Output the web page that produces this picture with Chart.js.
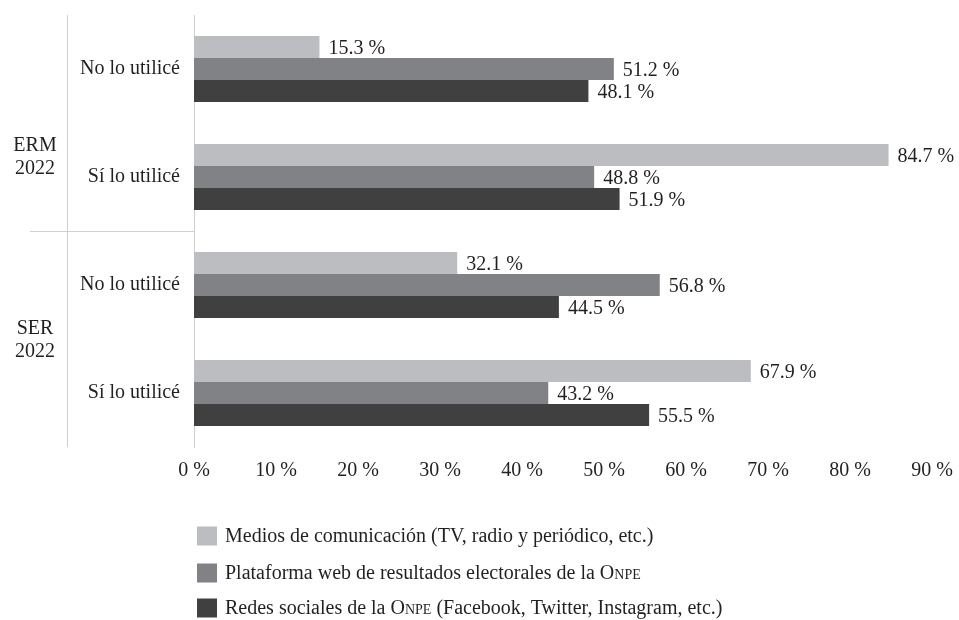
<!DOCTYPE html>
<html>
<head>
<meta charset="utf-8">
<script src="https://cdn.jsdelivr.net/npm/chart.js@4"></script>
<style>
  html, body { margin: 0; padding: 0; background: #fff; }
  #wrap { width: 959px; height: 620px; }
</style>
</head>
<body>
<div id="wrap"><canvas id="grafico" width="959" height="620"></canvas></div>
<script>
// categorías del eje vertical (de arriba hacia abajo)
const categorias = ['No lo utilicé', 'Sí lo utilicé', 'No lo utilicé', 'Sí lo utilicé'];
// grupos: cada uno abarca dos categorías
const grupos = [['ERM', '2022'], ['SER', '2022']];
// valores en % por serie
const medios = [15.3, 84.7, 32.1, 67.9];
const plataforma = [51.2, 48.8, 56.8, 43.2];
const redes = [48.1, 51.9, 44.5, 55.5];
// marcas del eje horizontal
const marcasX = [0, 10, 20, 30, 40, 50, 60, 70, 80, 90];
const nombresSeries = [
    'Medios de comunicación (TV, radio y periódico, etc.)',
    'Plataforma web de resultados electorales de la Onpe',
    'Redes sociales de la Onpe (Facebook, Twitter, Instagram, etc.)'
];
const colores = ['#bcbdc0', '#818285', '#404040'];

const fuente = '"Liberation Serif", "DejaVu Serif", serif';
const colorTexto = '#231f20';
const colorLinea = '#cfcfcf';

// etiquetas de valor al final de cada barra
const etiquetasValor = {
    id: 'etiquetasValor',
    afterDatasetsDraw(chart) {
        const ctx = chart.ctx;
        ctx.save();
        ctx.font = '20px ' + fuente;
        ctx.fillStyle = colorTexto;
        ctx.textAlign = 'left';
        ctx.textBaseline = 'middle';
        chart.data.datasets.forEach((ds, i) => {
            chart.getDatasetMeta(i).data.forEach((bar, j) => {
                const texto = ds.data[j].toFixed(1) + ' %';
                ctx.fillText(texto, bar.x + 9, bar.y + 2);
            });
        });
        ctx.restore();
    }
};

// líneas separadoras y nombres de grupo a la izquierda
const grupoIzquierda = {
    id: 'grupoIzquierda',
    afterDraw(chart) {
        const ctx = chart.ctx;
        const y = chart.scales.y;
        const area = chart.chartArea;
        ctx.save();
        ctx.strokeStyle = colorLinea;
        ctx.lineWidth = 1;
        ctx.beginPath();
        ctx.moveTo(67.5, area.top);
        ctx.lineTo(67.5, area.bottom);
        const medio = (y.getPixelForValue(1) + y.getPixelForValue(2)) / 2;
        ctx.moveTo(30, Math.round(medio) + 0.5);
        ctx.lineTo(area.left, Math.round(medio) + 0.5);
        ctx.stroke();

        ctx.font = '20px ' + fuente;
        ctx.fillStyle = colorTexto;
        ctx.textAlign = 'center';
        ctx.textBaseline = 'middle';
        // ERM un poco más abajo, como en el original
        const yErm = y.getPixelForValue(1) - 19;
        const ySer = (y.getPixelForValue(2) + y.getPixelForValue(3)) / 2 + 2;
        [yErm, ySer].forEach((yc, g) => {
            ctx.fillText(grupos[g][0], 35, yc - 12);
            ctx.fillText(grupos[g][1], 35, yc + 11);
        });
        ctx.restore();
    }
};

// leyenda en tres filas, con "Onpe" en versalitas
const leyenda = {
    id: 'leyenda',
    afterDraw(chart) {
        const ctx = chart.ctx;
        ctx.save();
        ctx.textBaseline = 'middle';
        ctx.textAlign = 'left';
        const filas = [536, 573, 608];
        nombresSeries.forEach((nombre, i) => {
            const yc = filas[i];
            ctx.fillStyle = colores[i];
            ctx.fillRect(197, yc - 9.5, 20, 19);
            ctx.fillStyle = colorTexto;
            let x = 225;
            nombre.split(/(Onpe)/).forEach(parte => {
                if (!parte) return;
                ctx.font = '20px ' + fuente;
                ctx.fontVariantCaps = parte === 'Onpe' ? 'small-caps' : 'normal';
                ctx.fillText(parte, x, yc + 1);
                x += ctx.measureText(parte).width;
            });
        });
        ctx.fontVariantCaps = 'normal';
        ctx.restore();
    }
};

const config = {
    type: 'bar',
    data: {
        labels: categorias,
        datasets: [
            { label: nombresSeries[0], data: medios, backgroundColor: colores[0] },
            { label: nombresSeries[1], data: plataforma, backgroundColor: colores[1] },
            { label: nombresSeries[2], data: redes, backgroundColor: colores[2] }
        ]
    },
    options: {
        indexAxis: 'y',
        responsive: false,
        animation: false,
        categoryPercentage: 0.612,
        barPercentage: 1,
        layout: { padding: { top: 15, right: 27, bottom: 133, left: 0 } },
        plugins: {
            legend: { display: false },
            tooltip: { enabled: false }
        },
        scales: {
            x: {
                min: 0,
                max: 90,
                afterBuildTicks(scale) {
                    scale.ticks = marcasX.map(v => ({ value: v }));
                },
                afterFit(scale) { scale.height = 40; },
                grid: { display: false },
                border: { display: false },
                ticks: {
                    padding: 4,
                    color: colorTexto,
                    font: { family: fuente, size: 20 },
                    callback: v => v + ' %'
                }
            },
            y: {
                afterFit(scale) {
                    scale.width = 194;
                    scale.paddingTop = 0;
                    scale.paddingBottom = 0;
                },
                grid: { display: false, drawTicks: false },
                border: { display: true, color: colorLinea, width: 1 },
                ticks: {
                    padding: 14,
                    color: colorTexto,
                    font: { family: fuente, size: 20 }
                }
            }
        }
    },
    plugins: [etiquetasValor, grupoIzquierda, leyenda]
};

const ctx = document.querySelector('#grafico');
const grafico = new Chart(ctx, config);
</script>
</body>
</html>
